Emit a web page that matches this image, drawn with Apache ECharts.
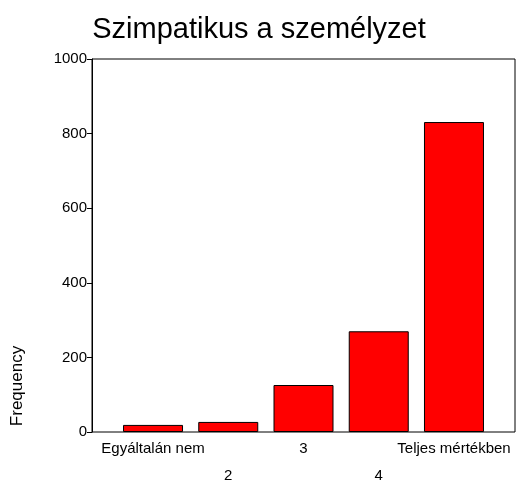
<!DOCTYPE html>
<html>
<head>
<meta charset="utf-8">
<script src="https://cdn.jsdelivr.net/npm/echarts@6/dist/echarts.min.js"></script>
<style>
  html, body { margin: 0; padding: 0; background: #fff; }
  #chart { width: 518px; height: 484px; }
</style>
</head>
<body>
<div id="chart"></div>
<script>
// Szimpatikus a személyzet - gyakoriság
const categories = ['Egyáltalán nem', '2', '3', '4', 'Teljes mértékben'];
const frequency = [19, 27, 126, 270, 831];
const yTicks = [0, 200, 400, 600, 800, 1000];

const font = 'Arial, "Liberation Sans", sans-serif';

const chart = echarts.init(document.getElementById('chart'));

chart.setOption({
  animation: false,
  textStyle: { fontFamily: font },
  title: {
    text: 'Szimpatikus a személyzet',
    left: 'center',
    top: 10,
    textStyle: { fontSize: 29, fontWeight: 'normal', color: '#000', fontFamily: font }
  },
  grid: [
    // bars
    { left: 115.4, right: 26.4, top: 59, bottom: 52, containLabel: false, outerBoundsMode: 'none' },
    // frame + value axis
    { left: 92, right: 3, top: 59, bottom: 52, show: true, borderColor: '#000', borderWidth: 1,
      backgroundColor: 'transparent', containLabel: false, outerBoundsMode: 'none' }
  ],
  xAxis: [
    {
      type: 'category',
      gridIndex: 0,
      data: categories,
      axisLine: { show: false },
      axisTick: { show: false },
      axisLabel: {
        interval: 0,
        color: '#000',
        fontSize: 15,
        lineHeight: 27,
        margin: 3,
        formatter: (v, i) => (i % 2 ? '\n' + v : v)
      }
    },
    { type: 'value', gridIndex: 1, show: false }
  ],
  yAxis: [
    {
      type: 'value',
      gridIndex: 1,
      min: yTicks[0],
      max: yTicks[yTicks.length - 1],
      interval: 200,
      axisLine: { show: true, lineStyle: { color: '#000', width: 1 } },
      axisTick: { show: true, length: 5, lineStyle: { color: '#000' } },
      axisLabel: { color: '#000', fontSize: 15, margin: 5, formatter: v => String(v) },
      splitLine: { show: false }
    },
    {
      type: 'value',
      gridIndex: 0,
      min: yTicks[0],
      max: yTicks[yTicks.length - 1],
      show: false,
      splitLine: { show: false }
    }
  ],
  graphic: [
    {
      type: 'text',
      x: 17,
      y: 386,
      rotation: Math.PI / 2,
      style: {
        text: 'Frequency',
        fontSize: 17,
        fontFamily: font,
        fill: '#000',
        align: 'center',
        verticalAlign: 'middle'
      }
    }
  ],
  series: [
    {
      type: 'bar',
      xAxisIndex: 0,
      yAxisIndex: 1,
      data: frequency,
      barWidth: 60,
      itemStyle: { color: '#ff0000', borderColor: '#000', borderWidth: 1 }
    }
  ]
});
</script>
</body>
</html>
